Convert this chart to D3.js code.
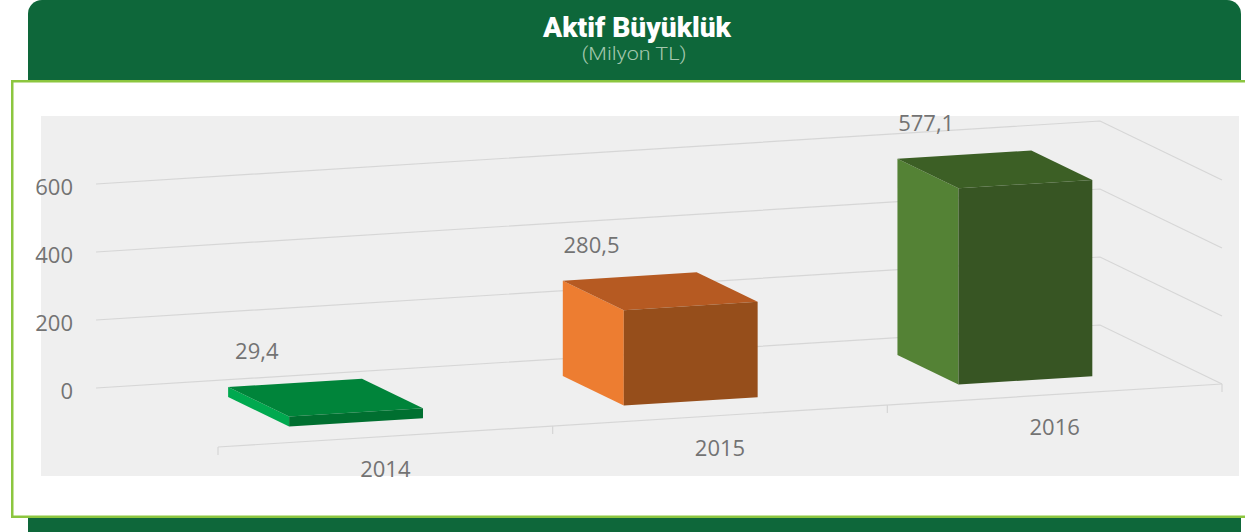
<!DOCTYPE html>
<html>
<head>
<meta charset="utf-8">
<script src="https://cdn.jsdelivr.net/npm/d3@7/dist/d3.min.js"></script>
<style>
  html, body { margin: 0; padding: 0; background: #ffffff; }
  svg { display: block; }
</style>
</head>
<body>
<svg id="chart" width="1245" height="532"></svg>
<script>
// ---- data ----
const categories = ["2014", "2015", "2016"];
const values = [29.4, 280.5, 577.1];
const valueLabels = ["29,4", "280,5", "577,1"];
const yTicks = [0, 200, 400, 600];
const title = "Aktif Büyüklük";
const subtitle = "(Milyon TL)";

// bar face colours: [left side, top, front]
const barColors = [
  ["#00a94f", "#00843a", "#006f30"],
  ["#ed7d31", "#b65a22", "#964e1b"],
  ["#548235", "#3c5f25", "#375523"]
];

const svg = d3.select("#chart");

// ---- frame ----
svg.append("rect").attr("x", 28).attr("y", 0).attr("width", 1213).attr("height", 100)
  .attr("rx", 14).attr("fill", "#0e673a");
svg.append("rect").attr("x", 28).attr("y", 490).attr("width", 1213).attr("height", 60)
  .attr("rx", 14).attr("fill", "#0e673a");
svg.append("rect").attr("x", 12.25).attr("y", 81.25).attr("width", 1250).attr("height", 435.5)
  .attr("fill", "#ffffff").attr("stroke", "#8cc63f").attr("stroke-width", 2.5);

svg.append("text").attr("x", 637).attr("y", 37).attr("text-anchor", "middle")
  .attr("font-family", "Roboto").attr("font-weight", 900).attr("font-size", 28)
  .attr("textLength", 188).attr("lengthAdjust", "spacingAndGlyphs")
  .attr("fill", "#ffffff").text(title);
svg.append("text").attr("x", 634).attr("y", 60).attr("text-anchor", "middle")
  .attr("font-family", "Roboto").attr("font-weight", 300).attr("font-size", 18)
  .attr("textLength", 105).attr("lengthAdjust", "spacingAndGlyphs")
  .attr("fill", "#a3c7ae").text(subtitle);

// plot area
svg.append("rect").attr("x", 41).attr("y", 116).attr("width", 1198).attr("height", 360)
  .attr("fill", "#efefef");

// ---- 3D projection via scales ----
const origin = [96, 388];
const catVec = [1004, -63];   // full category axis direction
const depVec = [122, 59];     // full depth direction
const xScale = d3.scaleBand().domain(categories).range([0, 1]).paddingInner(0.6).paddingOuter(0.3);
const yScale = d3.scaleLinear().domain([0, 600]).range([0, 204]);
const dScale = d3.scaleLinear().domain([0, 1]).range([0, 1]);
const barDepth = [0.26, 0.76];

function P(t, v, d) {
  const dd = dScale(d);
  return [origin[0] + t * catVec[0] + dd * depVec[0],
          origin[1] + t * catVec[1] + dd * depVec[1] - yScale(v)];
}
const line = d3.line();
const poly = pts => line(pts) + "Z";

const grid = svg.append("g").attr("fill", "none").attr("stroke", "#d6d6d6").attr("stroke-width", 1.2);
yTicks.forEach(v => {
  grid.append("path").attr("d", line([P(0, v, 0), P(1, v, 0), P(1, v, 1)]));
});
// floor front edge and ticks
grid.append("path").attr("d", line([P(0, 0, 1), P(1, 0, 1)]));
[0, 1, 2, 3].forEach(i => {
  const t = i / categories.length;
  const p = P(t, 0, 1);
  grid.append("path").attr("d", line([p, [p[0], p[1] + 8]]));
});

// y tick labels
svg.append("g").selectAll("text").data(yTicks).join("text")
  .attr("x", d => P(0, d, 0)[0] - 23)
  .attr("y", d => P(0, d, 0)[1] + 10.5)
  .attr("text-anchor", "end")
  .attr("font-family", "Open Sans").attr("font-size", 22).attr("fill", "#737373")
  .text(d => d);

// bars
const bars = svg.append("g");
categories.forEach((c, i) => {
  const t0 = xScale(c), t1 = t0 + xScale.bandwidth();
  const v = values[i];
  const [d0, d1] = barDepth;
  const g = bars.append("g");
  g.append("path").attr("fill", barColors[i][0])
    .attr("d", poly([P(t0, 0, d0), P(t0, 0, d1), P(t0, v, d1), P(t0, v, d0)]));
  g.append("path").attr("fill", barColors[i][1])
    .attr("d", poly([P(t0, v, d0), P(t1, v, d0), P(t1, v, d1), P(t0, v, d1)]));
  g.append("path").attr("fill", barColors[i][2])
    .attr("d", poly([P(t0, 0, d1), P(t1, 0, d1), P(t1, v, d1), P(t0, v, d1)]));
});

// data labels
svg.append("g").selectAll("text").data(categories).join("text")
  .attr("x", (c, i) => P(xScale(c) + xScale.bandwidth() / 2, values[i], 0)[0] - 6.5)
  .attr("y", (c, i) => P(xScale(c) + xScale.bandwidth() / 2, values[i], 0)[1] - 8.5)
  .attr("text-anchor", "middle")
  .attr("font-family", "Open Sans").attr("font-size", 22).attr("fill", "#737373")
  .text((c, i) => valueLabels[i]);

// category labels
svg.append("g").selectAll("text").data(categories).join("text")
  .attr("x", c => P(xScale(c) + xScale.bandwidth() / 2, 0, 1)[0])
  .attr("y", c => P(xScale(c) + xScale.bandwidth() / 2, 0, 1)[1] + 40)
  .attr("text-anchor", "middle")
  .attr("font-family", "Open Sans").attr("font-size", 22).attr("fill", "#737373")
  .text(c => c);
</script>
</body>
</html>
